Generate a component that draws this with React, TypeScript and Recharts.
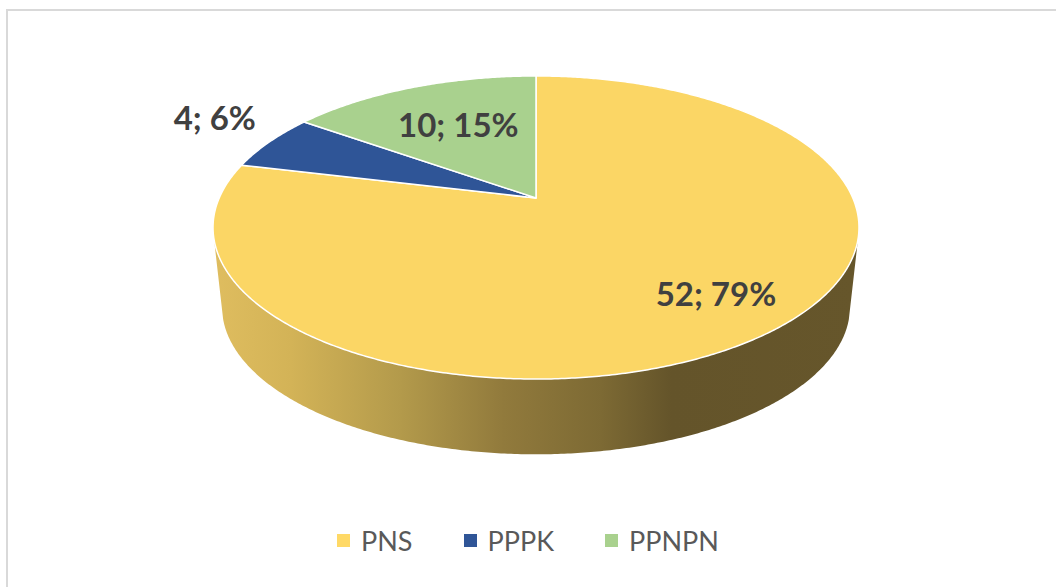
import { Legend, Pie, PieChart, Cell } from "recharts";

const categories = ["PNS", "PPPK", "PPNPN"];
const values = [52, 4, 10];
const colors = ["#FBD665", "#2F5597", "#A9D18E"];
const legendColors = ["#FFD966", "#2F5597", "#A9D18E"];
const labelRadius = [0.77, 1.2, 0.64];
const labelNudge = [[9, -5], [-6, -15], [6, 1]];

const data = categories.map((name, i) => ({ name, value: values[i] }));

// the 3D tilt: a circle of unit radius seen in perspective
const TILT = -0.1947;
const SQUASH = 145.8;
const WALL_SCALE = 0.972;
const ELLIPSE_CY = 227.5;
const WALL_CY = 307;
const WALL_RIGHT = -15.8;
const WALL_LEFT = -164.2;

const RAD = Math.PI / 180;

function project(cx: number, cy: number, R: number, angle: number, r = 1) {
  const u = r * Math.cos(angle * RAD);
  const v = -r * Math.sin(angle * RAD);
  const d = 1 + TILT * v;
  return { x: cx + (R * u) / d, y: cy + (SQUASH * v) / d };
}

function arc(cx: number, cy: number, R: number, from: number, to: number) {
  const pts = [];
  const steps = Math.max(1, Math.ceil(Math.abs(to - from) * 2));
  for (let i = 0; i <= steps; i++) {
    pts.push(project(cx, cy, R, from + ((to - from) * i) / steps));
  }
  return pts;
}

function toPath(pts: { x: number; y: number }[]) {
  return pts.map((p, i) => `${i ? "L" : "M"}${p.x.toFixed(2)},${p.y.toFixed(2)}`).join(" ") + " Z";
}

function Slice3D(props: any) {
  const { cx, cy, outerRadius, startAngle, endAngle, fill } = props;
  const top = [{ x: cx, y: cy }, ...arc(cx, cy, outerRadius, startAngle, endAngle)];

  // only the part of the rim that faces the viewer gets a wall
  const a = Math.min(startAngle, WALL_RIGHT);
  const b = Math.max(endAngle, WALL_LEFT);
  let wall = null;
  if (a > b) {
    const upper = arc(cx, cy, outerRadius, a, b);
    const lower = [...upper].reverse().map((p) => ({
      x: cx + (p.x - cx) * WALL_SCALE,
      y: WALL_CY + (p.y - ELLIPSE_CY) * WALL_SCALE,
    }));
    wall = <path d={toPath([...upper, ...lower])} fill="url(#wallShade)" stroke="none" />;
  }

  return (
    <g>
      <defs>
        <linearGradient id="wallShade" gradientUnits="userSpaceOnUse" x1="213" y1="0" x2="859" y2="0">
          <stop offset="0" stopColor="#DFBD5F" />
          <stop offset="0.12" stopColor="#D3B357" />
          <stop offset="0.29" stopColor="#B39A4B" />
          <stop offset="0.45" stopColor="#917A3C" />
          <stop offset="0.6" stopColor="#7D6A34" />
          <stop offset="0.71" stopColor="#64542A" />
          <stop offset="1" stopColor="#66562B" />
        </linearGradient>
      </defs>
      {wall}
      <path d={toPath(top)} fill={fill} stroke="#FFFFFF" strokeWidth={1.5} strokeLinejoin="round" />
    </g>
  );
}

function renderLabel(props: any) {
  const { cx, cy, outerRadius, midAngle, value, percent, index } = props;
  const p = project(cx, cy, outerRadius, midAngle, labelRadius[index]);
  return (
    <text
      x={p.x + labelNudge[index][0]}
      y={p.y + labelNudge[index][1]}
      textAnchor="middle"
      dominantBaseline="central"
      fill="#404040"
      fontFamily="Lato"
      fontWeight={700}
      fontSize={33}
    >
      {`${value}; ${Math.round(percent * 100)}%`}
    </text>
  );
}

function LegendRow({ payload }: any) {
  return (
    <div style={{ display: "flex", justifyContent: "center", gap: 51, fontFamily: "Lato", fontSize: 27, color: "#595959" }}>
      {(payload ?? []).map((item: any, i: number) => (
        <div key={item.value} style={{ display: "flex", alignItems: "center", gap: 11 }}>
          <span style={{ width: 13, height: 13, background: legendColors[i], display: "inline-block" }} />
          <span>{item.value}</span>
        </div>
      ))}
    </div>
  );
}

export default function App() {
  return (
    <div style={{ position: "absolute", left: 0, top: 0, width: 1056, height: 587, overflow: "hidden", background: "#fff" }}>
      <div style={{ position: "absolute", left: 6, top: 9, width: 1100, height: 640, border: "2px solid #D9D9D9" }} />
      <div style={{ position: "absolute", left: 0, top: 0 }}>
        <PieChart width={1056} height={587} margin={{ top: 0, right: 0, bottom: 0, left: 0 }}>
          <Pie
            data={data}
            dataKey="value"
            nameKey="name"
            cx={536}
            cy={198}
            innerRadius={0}
            outerRadius={316.8}
            startAngle={90}
            endAngle={-270}
            stroke="#fff"
            shape={Slice3D}
            label={renderLabel}
            labelLine={false}
            isAnimationActive={false}
          >
            {data.map((d, i) => (
              <Cell key={d.name} fill={colors[i]} />
            ))}
          </Pie>
          <Legend content={LegendRow} itemSorter={null} wrapperStyle={{ left: 0, top: 524, width: 1056 }} />
        </PieChart>
      </div>
    </div>
  );
}
